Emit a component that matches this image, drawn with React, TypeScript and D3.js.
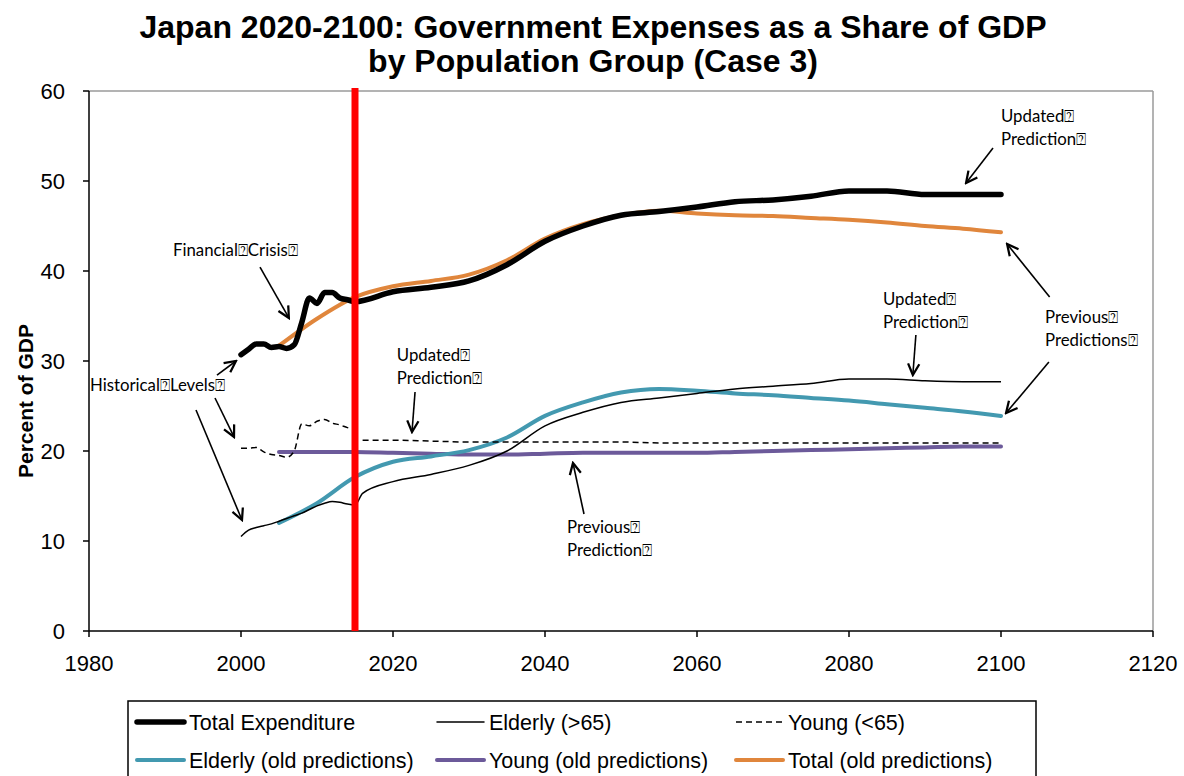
import React from 'react';
import * as d3 from 'd3';

// ---------- data ----------
const histYears = [2000, 2001, 2002, 2003, 2004, 2005, 2006, 2007, 2008, 2009, 2010, 2011, 2012, 2013, 2014, 2015];
const totalHist = [30.7, 31.3, 31.9, 31.9, 31.5, 31.6, 31.4, 31.8, 34.3, 37.0, 36.4, 37.6, 37.6, 37.0, 36.8, 36.6];
const elderlyHist = [10.5, 11.2, 11.5, 11.7, 11.9, 12.2, 12.5, 12.8, 13.1, 13.5, 13.9, 14.2, 14.4, 14.3, 14.1, 14.0];
const youngHist = [20.3, 20.3, 20.4, 19.9, 19.6, 19.5, 19.3, 20.0, 23.0, 22.8, 23.3, 23.5, 23.1, 22.9, 22.6, 22.4];

const totalPredYears = [2015, 2020, 2025, 2030, 2035, 2040, 2045, 2050, 2055, 2060, 2065, 2070, 2075, 2080, 2085, 2090, 2095, 2100];
const totalPred = [36.6, 37.7, 38.2, 38.9, 40.7, 43.3, 45.0, 46.2, 46.6, 47.1, 47.7, 47.9, 48.3, 48.9, 48.9, 48.5, 48.5, 48.5];

const groupPredYears = [2016, 2020, 2025, 2030, 2035, 2040, 2045, 2050, 2055, 2060, 2065, 2070, 2075, 2080, 2085, 2090, 2095, 2100];
const elderlyPred = [15.3, 16.6, 17.4, 18.4, 20.0, 22.8, 24.3, 25.4, 25.9, 26.4, 26.9, 27.2, 27.5, 28.0, 28.0, 27.8, 27.7, 27.7];
const youngPred = [21.2, 21.2, 21.1, 21.0, 21.0, 21.0, 21.0, 21.0, 20.9, 20.9, 20.9, 20.9, 20.9, 20.9, 20.9, 20.9, 20.9, 20.9];

const oldYears = [2005, 2010, 2015, 2020, 2025, 2030, 2035, 2040, 2045, 2050, 2055, 2060, 2065, 2070, 2075, 2080, 2085, 2090, 2095, 2100];
const elderlyOld = [12.0, 14.2, 17.1, 18.8, 19.4, 20.1, 21.5, 23.9, 25.4, 26.5, 26.9, 26.7, 26.4, 26.2, 25.9, 25.6, 25.2, 24.8, 24.4, 23.9];
const youngOld = [19.9, 19.9, 19.9, 19.8, 19.7, 19.6, 19.6, 19.7, 19.8, 19.8, 19.8, 19.8, 19.9, 20.0, 20.1, 20.2, 20.3, 20.4, 20.5, 20.5];
const totalOld = [31.7, 34.7, 37.1, 38.3, 38.9, 39.6, 41.2, 43.6, 45.2, 46.2, 46.7, 46.4, 46.2, 46.1, 45.9, 45.7, 45.4, 45.0, 44.7, 44.3];

const crisisYear = 2015;

const xTicks = [1980, 2000, 2020, 2040, 2060, 2080, 2100, 2120];
const yTicks = [0, 10, 20, 30, 40, 50, 60];

const titleLines = ['Japan 2020-2100: Government Expenses as a Share of GDP', 'by Population Group (Case 3)'];
const yTitle = 'Percent of GDP';

const legendRow1 = ['Total Expenditure', 'Elderly (>65)', 'Young (<65)'];
const legendRow2 = ['Elderly (old predictions)', 'Young (old predictions)', 'Total (old predictions)'];

const Q = '\u2370';
// annotations in data coordinates [year, value]
const annotTexts = [
  { lines: ['Financial' + Q + 'Crisis' + Q], at: [1991.05, 41.67] },
  { lines: ['Historical' + Q + 'Levels' + Q], at: [1980.13, 26.67] },
  { lines: ['Updated' + Q, 'Prediction' + Q], at: [2020.5, 30.0] },
  { lines: ['Previous' + Q, 'Prediction' + Q], at: [2042.9, 10.89] },
  { lines: ['Updated' + Q, 'Prediction' + Q], at: [2100.0, 56.56] },
  { lines: ['Updated' + Q, 'Prediction' + Q], at: [2084.47, 36.22] },
  { lines: ['Previous' + Q, 'Predictions' + Q], at: [2105.8, 34.22] },
];
const annotArrows = [
  [[2002.5, 40.44], [2006.3, 34.78]],
  [[1996.84, 28.44], [1999.34, 30.0]],
  [[1996.58, 25.89], [1999.08, 21.56]],
  [[1994.08, 24.56], [2000.13, 12.33]],
  [[2022.9, 26.56], [2022.5, 22.11]],
  [[2045.13, 13.0], [2043.68, 18.67]],
  [[2098.95, 53.67], [2095.4, 49.78]],
  [[2088.8, 32.89], [2088.4, 28.44]],
  [[2106.4, 37.11], [2100.8, 43.0]],
  [[2106.3, 29.89], [2100.66, 24.22]],
];

// ---------- styles ----------
const C_BLACK = '#000000';
const C_TEAL = '#4399B0';
const C_PURPLE = '#6C5A9A';
const C_ORANGE = '#E0863C';
const C_RED = '#FF0000';
const SANS = '"Liberation Sans", Arial, sans-serif';
const ANNOT = 'Lato, "Open Sans", sans-serif';

export default function App() {
  const W = 1184, H = 776;
  const x = d3.scaleLinear().domain([1980, 2120]).range([89, 1153]);
  const y = d3.scaleLinear().domain([0, 60]).range([631, 91]);

  const line = d3.line<[number, number]>()
    .x(d => x(d[0]))
    .y(d => y(d[1]))
    .curve(d3.curveMonotoneX);

  const zip = (xs: number[], vs: number[]) => xs.map((v, i) => [v, vs[i]] as [number, number]);

  const totalSeries = [...zip(histYears, totalHist), ...zip(totalPredYears, totalPred).slice(1)];
  const elderlySeries = [...zip(histYears, elderlyHist), ...zip(groupPredYears, elderlyPred)];
  const youngHistSeries = zip(histYears, youngHist);
  const youngPredSeries = zip(groupPredYears, youngPred);

  const [x0, x1] = x.range();
  const [y0, y1] = y.range();

  const legendCols = [137, 437, 736];
  const legendRows = [722, 760];
  const legendStyles1 = [
    { stroke: C_BLACK, w: 5.5, dash: undefined },
    { stroke: C_BLACK, w: 1.5, dash: undefined },
    { stroke: C_BLACK, w: 1.5, dash: '6,4' },
  ];
  const legendStyles2 = [
    { stroke: C_TEAL, w: 4, dash: undefined },
    { stroke: C_PURPLE, w: 4, dash: undefined },
    { stroke: C_ORANGE, w: 4, dash: undefined },
  ];

  return (
    <svg width={W} height={H} style={{ position: 'absolute', left: 0, top: 0, background: '#fff' }}>
      <defs>
        <marker id="arr" viewBox="0 0 16 16" refX="14" refY="8" markerWidth="15" markerHeight="15"
          markerUnits="userSpaceOnUse" orient="auto">
          <path d="M2,2 L14,8 L2,14" fill="none" stroke="#000" strokeWidth="2.4" strokeLinejoin="miter" />
        </marker>
      </defs>

      {/* title */}
      {titleLines.map((t, i) => (
        <text key={i} x={593} y={38 + i * 34} textAnchor="middle" fontFamily={SANS} fontWeight="bold" fontSize={32}>{t}</text>
      ))}

      {/* frame */}
      <line x1={x0} x2={x1} y1={y1} y2={y1} stroke="#9a9a9a" strokeWidth={1.5} />
      <line x1={x1} x2={x1} y1={y1} y2={y0} stroke="#9a9a9a" strokeWidth={1.5} />

      {/* y axis */}
      <line x1={x0} x2={x0} y1={y1} y2={y0} stroke="#000" strokeWidth={1.5} />
      {yTicks.map(t => (
        <g key={t}>
          <line x1={x0 - 6} x2={x0} y1={y(t)} y2={y(t)} stroke="#000" strokeWidth={1.5} />
          <text x={x0 - 24} y={y(t) + 8} textAnchor="end" fontFamily={SANS} fontSize={22}>{t}</text>
        </g>
      ))}
      <text transform={`translate(33,${401}) rotate(-90)`} textAnchor="middle" fontFamily={SANS} fontWeight="bold" fontSize={21}>{yTitle}</text>

      {/* x axis */}
      <line x1={x0} x2={x1} y1={y0} y2={y0} stroke="#000" strokeWidth={1.5} />
      {xTicks.map(t => (
        <g key={t}>
          <line x1={x(t)} x2={x(t)} y1={y0} y2={y0 + 6} stroke="#000" strokeWidth={1.5} />
          <text x={x(t)} y={y0 + 40} textAnchor="middle" fontFamily={SANS} fontSize={22}>{t}</text>
        </g>
      ))}

      {/* old predictions */}
      <path d={line(zip(oldYears, youngOld)) || ''} fill="none" stroke={C_PURPLE} strokeWidth={4} strokeLinecap="round" />
      <path d={line(zip(oldYears, elderlyOld)) || ''} fill="none" stroke={C_TEAL} strokeWidth={4} strokeLinecap="round" />
      <path d={line(zip(oldYears, totalOld)) || ''} fill="none" stroke={C_ORANGE} strokeWidth={4} strokeLinecap="round" />

      {/* updated */}
      <path d={line(youngHistSeries) || ''} fill="none" stroke={C_BLACK} strokeWidth={1.5} strokeDasharray="6,4" />
      <path d={line(youngPredSeries) || ''} fill="none" stroke={C_BLACK} strokeWidth={1.5} strokeDasharray="6,4" />
      <path d={line(elderlySeries) || ''} fill="none" stroke={C_BLACK} strokeWidth={1.5} />
      <path d={line(totalSeries) || ''} fill="none" stroke={C_BLACK} strokeWidth={5.5} strokeLinejoin="round" strokeLinecap="round" />

      {/* red line */}
      <line x1={x(crisisYear)} x2={x(crisisYear)} y1={y1 - 3} y2={y0} stroke={C_RED} strokeWidth={7} />

      {/* annotations */}
      {annotTexts.map((a, i) => (
        <text key={i} x={x(a.at[0])} y={y(a.at[1])} fontFamily={ANNOT} fontSize={16.8} fill="#000">
          {a.lines.map((l, j) => (
            <tspan key={j} x={x(a.at[0])} dy={j === 0 ? 0 : 23}>{l}</tspan>
          ))}
        </text>
      ))}
      {annotArrows.map((a, i) => (
        <line key={i} x1={x(a[0][0])} y1={y(a[0][1])} x2={x(a[1][0])} y2={y(a[1][1])}
          stroke="#000" strokeWidth={1.6} markerEnd="url(#arr)" />
      ))}

      {/* legend */}
      <rect x={128} y={701} width={908} height={100} fill="#fff" stroke="#000" strokeWidth={1.5} />
      {[legendRow1, legendRow2].map((row, r) => row.map((label, c) => {
        const st = (r === 0 ? legendStyles1 : legendStyles2)[c];
        return (
          <g key={`${r}-${c}`}>
            <line x1={legendCols[c]} x2={legendCols[c] + 47} y1={legendRows[r]} y2={legendRows[r]}
              stroke={st.stroke} strokeWidth={st.w} strokeDasharray={st.dash} strokeLinecap={st.dash ? 'butt' : 'round'} />
            <text x={legendCols[c] + 52} y={legendRows[r] + 8} fontFamily={SANS} fontSize={21.5}>{label}</text>
          </g>
        );
      }))}
    </svg>
  );
}
